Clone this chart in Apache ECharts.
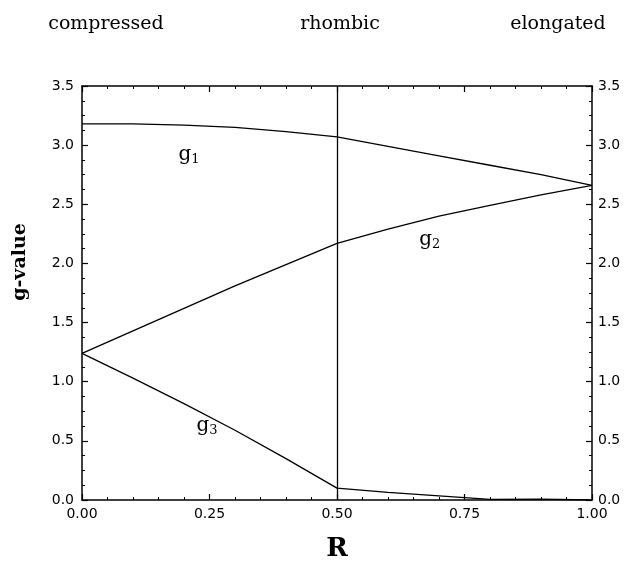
<!DOCTYPE html>
<html>
<head>
<meta charset="utf-8">
<script src="https://cdn.jsdelivr.net/npm/echarts@6/dist/echarts.min.js"></script>
<style>html,body{margin:0;padding:0;background:#fff;}#c{width:630px;height:570px;}</style>
</head>
<body>
<div id="c"></div>
<script>
var R  = [0, 0.1, 0.2, 0.3, 0.4, 0.5, 0.6, 0.7, 0.8, 0.9, 1.0];
var g1 = [3.18, 3.18, 3.17, 3.15, 3.115, 3.07, 2.99, 2.91, 2.83, 2.75, 2.66];
var g2 = [1.24, 1.43, 1.62, 1.81, 1.99, 2.17, 2.29, 2.40, 2.49, 2.58, 2.66];
var g3 = [1.24, 1.03, 0.815, 0.59, 0.35, 0.10, 0.065, 0.035, 0.005, 0.008, 0.0];
var xTicks = [0, 0.25, 0.5, 0.75, 1.0];
var yTicks = [0, 0.5, 1.0, 1.5, 2.0, 2.5, 3.0, 3.5];
var regimes = ['compressed', 'rhombic', 'elongated'];
var divider = 0.5;

function pairs(xs, ys){ return xs.map(function(x,i){ return [x, ys[i]]; }); }

var chart = echarts.init(document.getElementById('c'), null, {renderer:'canvas'});
var serif = '"DejaVu Serif", serif';
var sans = '"DejaVu Sans", sans-serif';
var axisLine = {show:true, onZero:false, lineStyle:{color:'#000', width:1.5}};
var axisTick = {show:true, inside:true, length:6, lineStyle:{color:'#000', width:1.2}};
function minor(n){ return {show:true, splitNumber:n, length:3, lineStyle:{color:'#000', width:1}}; }
var lineStyle = {color:'#000', width:1.3};
function subLabel(main, sub){ return '{a|' + main + '}{b|' + sub + '}'; }
var richG = {
  a:{fontFamily:serif, fontSize:20, color:'#000'},
  b:{fontFamily:serif, fontSize:13, color:'#000', padding:[10,0,0,0]}
};
function mp(name, sub, coord){
  return {symbolSize:0, silent:true, data:[{coord:coord, label:{show:true, position:'inside', formatter:subLabel(name, sub), rich:richG}}]};
}
var tickLabel = {color:'#000', fontFamily:sans, fontSize:14};

chart.setOption({
  animation:false,
  grid:{left:82, right:38, top:86, bottom:70},
  xAxis:[
    {type:'value', min:0, max:1, interval:0.25, position:'bottom',
      axisLine:axisLine, axisTick:axisTick, minorTick:minor(5), splitLine:{show:false},
      axisLabel:Object.assign({margin:7, formatter:function(v){return v.toFixed(2);}}, tickLabel),
      name:'R', nameLocation:'middle', nameGap:36,
      nameTextStyle:{fontFamily:serif, fontWeight:'bold', fontSize:26, color:'#000'}},
    {type:'value', min:0, max:1, interval:0.25, position:'top',
      axisLine:axisLine, axisTick:axisTick, minorTick:minor(5), splitLine:{show:false},
      axisLabel:{show:false}}
  ],
  yAxis:[
    {type:'value', min:0, max:3.5, interval:0.5, position:'left',
      axisLine:axisLine, axisTick:axisTick, minorTick:minor(4), splitLine:{show:false},
      axisLabel:Object.assign({margin:8, formatter:function(v){return v.toFixed(1);}}, tickLabel)},
    {type:'value', min:0, max:3.5, interval:0.5, position:'right',
      axisLine:axisLine, axisTick:axisTick, minorTick:minor(4), splitLine:{show:false},
      axisLabel:Object.assign({margin:6, formatter:function(v){return v.toFixed(1);}}, tickLabel)}
  ],
  series:[
    {type:'line', name:'g1', data:pairs(R,g1), showSymbol:false, lineStyle:lineStyle, itemStyle:{color:'#000'},
     markPoint: mp('g','1',[0.21, 2.92]),
     markLine:{silent:true, symbol:'none', label:{show:false}, lineStyle:{color:'#000', width:1.3, type:'solid'}, data:[{xAxis:divider}]}},
    {type:'line', name:'g2', data:pairs(R,g2), showSymbol:false, lineStyle:lineStyle, itemStyle:{color:'#000'},
     markPoint: mp('g','2',[0.682, 2.20])},
    {type:'line', name:'g3', data:pairs(R,g3), showSymbol:false, lineStyle:lineStyle, itemStyle:{color:'#000'},
     markPoint: mp('g','3',[0.245, 0.63])}
  ],
  graphic:[
    {type:'text', x:106, y:24, style:{text:regimes[0], font:'19px ' + serif, fill:'#000', textAlign:'center', textVerticalAlign:'middle'}},
    {type:'text', x:340, y:24, style:{text:regimes[1], font:'19px ' + serif, fill:'#000', textAlign:'center', textVerticalAlign:'middle'}},
    {type:'text', x:558, y:24, style:{text:regimes[2], font:'19px ' + serif, fill:'#000', textAlign:'center', textVerticalAlign:'middle'}},
    {type:'text', x:20, y:262, rotation:Math.PI/2, style:{text:'g-value', font:'bold 19px ' + serif, fill:'#000', textAlign:'center', textVerticalAlign:'middle'}}
  ]
});
</script>
</body>
</html>
